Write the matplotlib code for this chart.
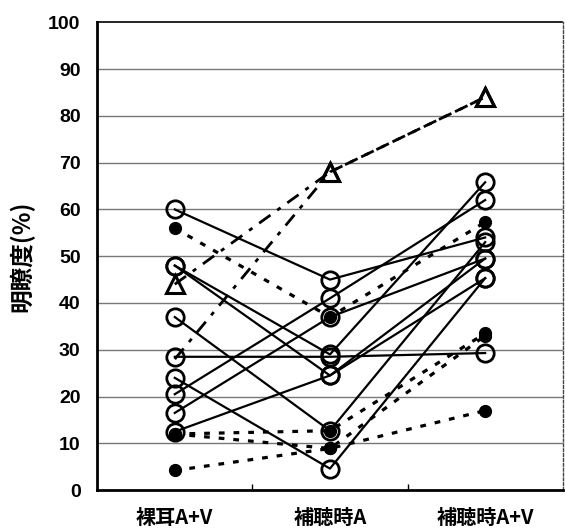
import matplotlib.pyplot as plt
from matplotlib.ticker import MultipleLocator, FixedLocator

plt.rcParams['font.family'] = ['Noto Sans CJK JP', 'DejaVu Sans']

# conditions on the x axis
conditions = ["裸耳A+V", "補聴時A", "補聴時A+V"]

# open circles, solid lines (one list per subject: bare ear, aided A, aided A+V)
open_subjects = [
    [60, 45, 54],
    [48, 29, 65.8],
    [48, 24.5, 49.5],
    [37, 12.7, 53],
    [28.5, 28.5, 29.3],
    [24, 4.6, 45.3],
    [20.5, 41, 62],
    [16.5, 37, 49.5],
    [12.5, 24.5, 45.3],
]

# filled dots, dotted lines
filled_subjects = [
    [56, 37, 57.3],
    [12, 12.7, 33.5],
    [12, 8.9, 33],
    [4.2, 8.9, 17],
]

# triangles, dash-dot lines
triangle_subjects = [
    [44, 68, 84],
    [28, 68, 84],
]

x = list(range(len(conditions)))

fig = plt.figure(figsize=(5.65, 5.31), dpi=100)
ax = fig.add_axes([0.172, 0.077, 0.824, 0.881])

# grid
for v in range(10, 100, 10):
    ax.axhline(v, color="#777777", linewidth=1.0, zorder=0)

for s in open_subjects:
    ax.plot(x, s, color="black", linewidth=1.6, zorder=2)
    ax.plot(x, s, linestyle="none", marker="o", markersize=12.5, mfc="none",
            mec="black", mew=2.0, zorder=3)

for s in filled_subjects:
    ax.plot(x, s, color="black", linewidth=2.3, linestyle=(0, (1.8, 2.8)), zorder=2)
    ax.plot(x, s, linestyle="none", marker="o", markersize=8.5, mfc="black",
            mec="black", zorder=3)

for i, s in enumerate(triangle_subjects):
    ax.plot(x, s, color="black", linewidth=2.0, linestyle=(0, (5, 3, 1.5, 3)), zorder=2)
    if i == 0:
        ax.plot(x, s, linestyle="none", marker="^", markersize=13, mfc="none",
                mec="black", mew=2.2, zorder=3)
    else:
        ax.plot(x[1:], s[1:], linestyle="none", marker="^", markersize=13, mfc="none",
                mec="black", mew=2.2, zorder=3)

ax.set_xlim(-0.5, 2.5)
ax.set_ylim(0, 100)
ax.yaxis.set_major_locator(MultipleLocator(10))
ax.tick_params(axis="y", length=0, pad=12, labelsize=14)
for lab in ax.get_yticklabels():
    lab.set_fontweight("bold")
    lab.set_family(["Liberation Sans", "DejaVu Sans"])

ax.set_xticks(x)
ax.set_xticklabels(conditions, fontsize=14.5, fontweight="bold")
ax.tick_params(axis="x", which="major", length=0, pad=12)
ax.xaxis.set_minor_locator(FixedLocator([0.5, 1.5]))
ax.tick_params(axis="x", which="minor", direction="in", length=4, width=1)

ax.set_ylabel("明瞭度(%)", fontsize=17, fontweight="bold", labelpad=10)

ax.spines["left"].set_linewidth(2.0)
ax.spines["bottom"].set_linewidth(2.0)
ax.spines["top"].set_linewidth(1.2)
ax.spines["top"].set_linestyle((0, (3, 1)))
ax.spines["right"].set_linewidth(1.0)
ax.spines["right"].set_linestyle((0, (2, 1.5)))
ax.spines["right"].set_color("#444444")

fig.savefig("out.png", dpi=100, facecolor="white")
